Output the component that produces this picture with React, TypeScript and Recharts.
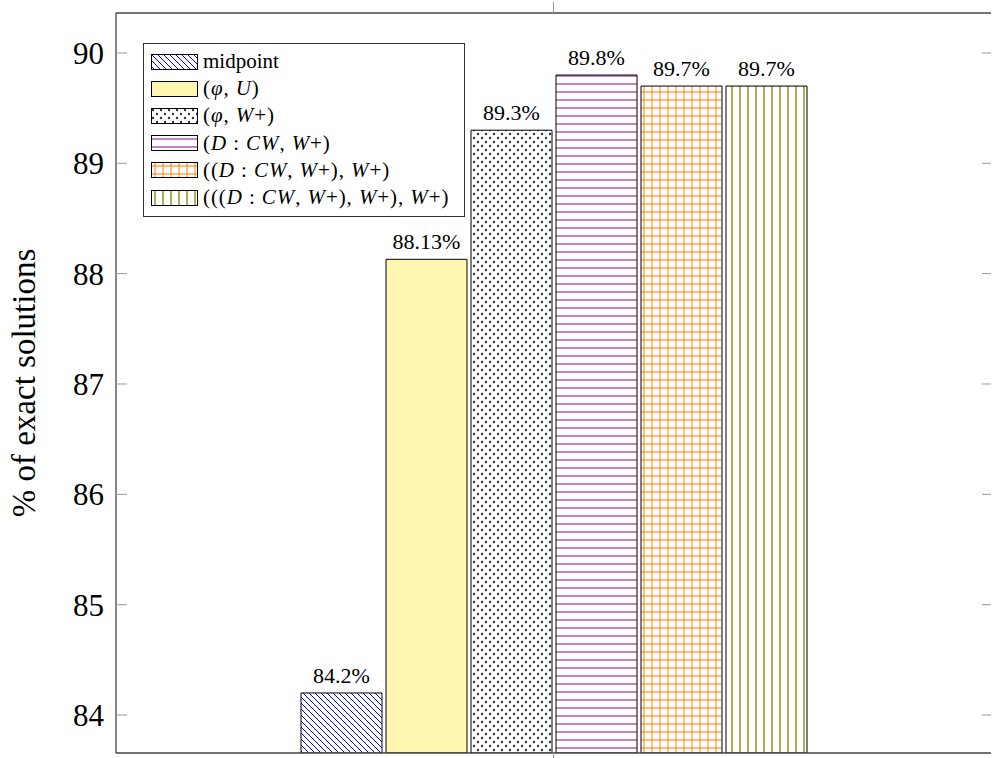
import React from "react";
import { BarChart, Bar, XAxis, YAxis, Legend, LabelList } from "recharts";

const categories = ["all"];
const seriesKeys = ["midpoint", "phiU", "phiW", "dcw", "dcw2", "dcw3"];
const seriesNames = [
  "midpoint",
  "(φ, U)",
  "(φ, W+)",
  "(D : CW, W+)",
  "((D : CW, W+), W+)",
  "(((D : CW, W+), W+), W+)",
];
const seriesValues = [84.2, 88.13, 89.3, 89.8, 89.7, 89.7];
const yTicks = [84, 85, 86, 87, 88, 89, 90];
const yDomain = [83.656, 90.362];

const fills = [
  "url(#p-nwlines)",
  "#fff6b0",
  "url(#p-dots)",
  "url(#p-hlines)",
  "url(#p-grid)",
  "url(#p-vlines)",
];

const data = categories.map((c) => {
  const row: Record<string, any> = { name: c };
  seriesKeys.forEach((k, i) => (row[k] = seriesValues[i]));
  return row;
});

const SERIF = "Liberation Serif";
const noLabel = () => <g />;

function Patterns() {
  return (
    <svg width={0} height={0} style={{ position: "absolute" }}>
      <defs>
        <pattern id="p-nwlines" width={6} height={6} patternUnits="userSpaceOnUse">
          <rect width={6} height={6} fill="#fff" />
          <path d="M0,0 L6,6 M-1,5 L1,7 M5,-1 L7,1" stroke="#0000ff" strokeWidth={1} />
        </pattern>
        <pattern id="p-dots" width={8} height={8} patternUnits="userSpaceOnUse">
          <rect width={8} height={8} fill="#fff" />
          <circle cx={2} cy={2} r={1.2} fill="#333" />
          <circle cx={6} cy={6} r={1.2} fill="#333" />
        </pattern>
        <pattern id="p-hlines" width={8} height={8} patternUnits="userSpaceOnUse">
          <rect width={8} height={8} fill="#fff" />
          <line x1={0} y1={4} x2={8} y2={4} stroke="#9c2f9c" strokeWidth={1.2} />
        </pattern>
        <pattern id="p-grid" width={8} height={8} patternUnits="userSpaceOnUse">
          <rect width={8} height={8} fill="#fff" />
          <line x1={0} y1={4} x2={8} y2={4} stroke="#ff8000" strokeWidth={1} />
          <line x1={4} y1={0} x2={4} y2={8} stroke="#ff8000" strokeWidth={1} />
        </pattern>
        <pattern id="p-vlines" width={8} height={8} patternUnits="userSpaceOnUse">
          <rect width={8} height={8} fill="#fff" />
          <line x1={4} y1={0} x2={4} y2={8} stroke="#808000" strokeWidth={1.3} />
        </pattern>
      </defs>
    </svg>
  );
}

// letters in the math-like names are set in italic
function MathText({ s }: { s: string }) {
  if (!s.startsWith("(")) return <span>{s}</span>;
  return (
    <span style={{ whiteSpace: "pre", letterSpacing: 0.9 }}>
      {s.split("").map((ch, i) =>
        /[A-Za-zφ]/.test(ch) ? (
          <i key={i}>{ch}</i>
        ) : (
          <span key={i}>{ch}</span>
        )
      )}
    </span>
  );
}

function LegendBox() {
  return (
    <div
      style={{
        boxSizing: "border-box",
        width: 322,
        height: 174,
        border: "1px solid #333",
        background: "#fff",
        padding: "4px 0 0 7px",
        fontFamily: SERIF,
        fontSize: 21,
        lineHeight: 1,
        color: "#000",
      }}
    >
      {seriesNames.map((n, i) => (
        <div key={n} style={{ display: "flex", alignItems: "center", height: 27.2 }}>
          <svg width={47} height={16} style={{ marginRight: 5, flex: "none" }}>
            <rect x={0.5} y={0.5} width={46} height={15} fill={fills[i]} stroke="#000" strokeWidth={1} />
          </svg>
          <MathText s={n} />
        </div>
      ))}
    </div>
  );
}

export default function App() {
  return (
    <div style={{ position: "absolute", left: 0, top: 0, width: 992, height: 758 }}>
      <Patterns />
      <BarChart
        width={992}
        height={758}
        data={data}
        margin={{ top: 12, right: 0, left: 0, bottom: 0 }}
        barSize={81}
        barGap={4}
        style={{ fontFamily: SERIF }}
      >
        <XAxis
          dataKey="name"
          height={5}
          tick={noLabel}
          tickSize={5}
          axisLine={{ stroke: "#444", strokeWidth: 1.3 }}
          tickLine={{ stroke: "#999" }}
        />
        <XAxis
          xAxisId="top"
          orientation="top"
          dataKey="name"
          height={1}
          tick={noLabel}
          tickSize={11}
          axisLine={{ stroke: "#444", strokeWidth: 1.3 }}
          tickLine={{ stroke: "#999" }}
        />
        <YAxis
          width={116}
          domain={yDomain}
          ticks={yTicks}
          allowDataOverflow
          tickSize={-11}
          tickMargin={23}
          interval={0}
          tick={{ fontSize: 31, fill: "#000", fontFamily: SERIF }}
          axisLine={{ stroke: "#444", strokeWidth: 1.3 }}
          tickLine={{ stroke: "#999" }}
          label={{
            content: ({ viewBox }: any) => (
              <text
                x={35}
                y={viewBox.y + viewBox.height / 2}
                transform={`rotate(-90 35 ${viewBox.y + viewBox.height / 2})`}
                textAnchor="middle"
                fontSize={33}
                fontFamily={SERIF}
                fill="#000"
              >
                % of exact solutions
              </text>
            ),
          }}
        />
        <YAxis
          yAxisId="right"
          orientation="right"
          width={1}
          domain={yDomain}
          ticks={yTicks}
          allowDataOverflow
          tick={noLabel}
          tickSize={-9}
          interval={0}
          axisLine={false}
          tickLine={{ stroke: "#999" }}
        />
        <Legend
          layout="vertical"
          align="center"
          verticalAlign="middle"
          content={() => <LegendBox />}
          wrapperStyle={{ left: 143, top: 43, width: 322, height: 174 }}
        />
        {seriesKeys.map((k, i) => (
          <Bar
            key={k}
            dataKey={k}
            name={seriesNames[i]}
            fill={fills[i]}
            stroke="#000"
            strokeWidth={1}
            isAnimationActive={false}
          >
            <LabelList
              dataKey={k}
              position="top"
              offset={10}
              formatter={(v: any) => `${v}%`}
              style={{ fontSize: 22, fill: "#000", fontFamily: SERIF }}
            />
          </Bar>
        ))}
      </BarChart>
    </div>
  );
}
